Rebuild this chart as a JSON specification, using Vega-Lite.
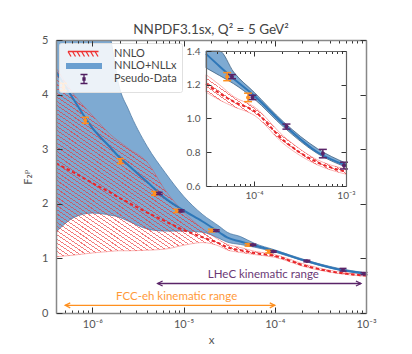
{
"$schema":"https://vega.github.io/schema/vega-lite/v6.json",
"width":310,"height":273,
"autosize":{"type":"none"},
"padding":{"left":56,"top":40,"right":46,"bottom":41},
"background":"white",
"title":{"text":"NNPDF3.1sx, Q² = 5 GeV²","font":"Lato","fontSize":13.5,"fontWeight":"normal","color":"#444","offset":-2},
"config":{
 "view":{"stroke":null},
 "axis":{"labelFont":"Lato","titleFont":"Lato","labelColor":"#555","titleColor":"#555","domainColor":"#888","domainWidth":1.5,"tickColor":"#333","tickWidth":1,"grid":false,"titleFontWeight":"normal","labelFontSize":11,"titleFontSize":11.5}
},
"datasets":{
 "curves":[
  {"x":4e-7,"bl":1.48,"bc":4.42,"bh":8.0,"rl":1.03,"rc":2.74,"rh":4.49},
  {"x":6.3e-7,"bl":1.75,"bc":3.90,"bh":6.8,"rl":1.06,"rc":2.57,"rh":4.00},
  {"x":1e-6,"bl":1.83,"bc":3.39,"bh":5.9,"rl":1.10,"rc":2.38,"rh":3.62},
  {"x":1.6e-6,"bl":1.79,"bc":3.02,"bh":5.0,"rl":1.13,"rc":2.20,"rh":3.26},
  {"x":1.93e-6,"bl":1.76,"bc":2.87,"bh":4.21,"rl":1.14,"rc":2.12,"rh":3.15},
  {"x":2.5e-6,"bl":1.68,"bc":2.70,"bh":3.72,"rl":1.14,"rc":2.02,"rh":3.01},
  {"x":4e-6,"bl":1.54,"bc":2.40,"bh":3.05,"rl":1.15,"rc":1.84,"rh":2.76},
  {"x":6.3e-6,"bl":1.50,"bc":2.10,"bh":2.57,"rl":1.17,"rc":1.68,"rh":2.25},
  {"x":1e-5,"bl":1.50,"bc":1.88,"bh":2.14,"rl":1.24,"rc":1.52,"rh":1.85},
  {"x":1.6e-5,"bl":1.48,"bc":1.68,"bh":1.81,"rl":1.29,"rc":1.39,"rh":1.55},
  {"x":2.5e-5,"bl":1.36,"bc":1.47,"bh":1.58,"rl":1.22,"rc":1.27,"rh":1.33},
  {"x":3e-5,"bl":1.30,"bc":1.383,"bh":1.48,"rl":1.156,"rc":1.206,"rh":1.26},
  {"x":4.2e-5,"bl":1.255,"bc":1.31,"bh":1.40,"rl":1.11,"rc":1.15,"rh":1.20},
  {"x":6e-5,"bl":1.206,"bc":1.235,"bh":1.275,"rl":1.07,"rc":1.10,"rh":1.13},
  {"x":1e-4,"bl":1.117,"bc":1.136,"bh":1.156,"rl":1.02,"rc":1.045,"rh":1.07},
  {"x":2.1e-4,"bl":0.949,"bc":0.965,"bh":0.979,"rl":0.85,"rc":0.87,"rh":0.895},
  {"x":4.9e-4,"bl":0.792,"bc":0.80,"bh":0.821,"rl":0.725,"rc":0.74,"rh":0.755},
  {"x":1e-3,"bl":0.712,"bc":0.722,"bh":0.735,"rl":0.67,"rc":0.685,"rh":0.70}
 ],
 "pts":[
  {"set":"FCC","x":4.84e-7,"y":4.14,"lo":4.075,"hi":4.205},
  {"set":"FCC","x":8.4e-7,"y":3.53,"lo":3.475,"hi":3.585},
  {"set":"FCC","x":2.03e-6,"y":2.78,"lo":2.735,"hi":2.825},
  {"set":"FCC","x":4.8e-6,"y":2.19,"lo":2.155,"hi":2.225},
  {"set":"FCC","x":8.4e-6,"y":1.87,"lo":1.84,"hi":1.90},
  {"set":"FCC","x":2.02e-5,"y":1.51,"lo":1.485,"hi":1.535},
  {"set":"FCC","x":5.1e-5,"y":1.248,"lo":1.224,"hi":1.272},
  {"set":"FCC","x":8.6e-5,"y":1.125,"lo":1.10,"hi":1.15},
  {"set":"LHeC","x":5.4e-6,"y":2.19,"lo":2.17,"hi":2.21},
  {"set":"LHeC","x":9.4e-6,"y":1.87,"lo":1.852,"hi":1.888},
  {"set":"LHeC","x":2.28e-5,"y":1.51,"lo":1.495,"hi":1.525},
  {"set":"LHeC","x":5.75e-5,"y":1.248,"lo":1.236,"hi":1.26},
  {"set":"LHeC","x":9.6e-5,"y":1.125,"lo":1.112,"hi":1.138},
  {"set":"LHeC","x":2.25e-4,"y":0.952,"lo":0.937,"hi":0.967},
  {"set":"LHeC","x":5.6e-4,"y":0.792,"lo":0.767,"hi":0.817},
  {"set":"LHeC","x":9.5e-4,"y":0.721,"lo":0.701,"hi":0.741}
 ],
 "arrows":[
  {"set":"LHeC","x1":5.2e-6,"x2":8.8e-4,"y":0.54,"label":"LHeC kinematic range","lx":7.5e-5,"ly":0.70},
  {"set":"FCC","x1":5.05e-7,"x2":1e-4,"y":0.14,"label":"FCC-eh kinematic range","lx":8.4e-6,"ly":0.29}
 ],
 "leg":[{"s":"NNLO"},{"s":"NNLO+NLLx"},{"s":"Pseudo-Data"}]
},
"layer":[
 {"layer":[
  {"data":{"name":"curves"},"mark":{"type":"area","clip":true,"fill":"#7eaad2","stroke":"#4f7ba6","strokeWidth":0.8,"interpolate":"monotone"},
   "encoding":{
    "x":{"field":"x","type":"quantitative","scale":{"type":"log","domain":[4e-7,0.001],"nice":false},
     "axis":{"orient":"bottom","values":[5e-7,6e-7,7e-7,8e-7,9e-7,1e-6,2e-6,3e-6,4e-6,5e-6,6e-6,7e-6,8e-6,9e-6,1e-5,2e-5,3e-5,4e-5,5e-5,6e-5,7e-5,8e-5,9e-5,1e-4,2e-4,3e-4,4e-4,5e-4,6e-4,7e-4,8e-4,9e-4,1e-3],
      "labelExpr":"datum.value == 0.000001 ? '10⁻⁶' : datum.value == 0.00001 ? '10⁻⁵' : datum.value == 0.0001 ? '10⁻⁴' : datum.value == 0.001 ? '10⁻³' : ''",
      "tickSize":{"condition":{"test":"datum.value == 0.000001 || datum.value == 0.00001 || datum.value == 0.0001 || datum.value == 0.001","value":-6},"value":-3},
      "labelPadding":11,"labelOverlap":false,"labelFlush":false,"title":"x","titlePadding":2,"zindex":1}},
    "y":{"field":"bl","type":"quantitative","scale":{"domain":[0,5],"nice":false,"zero":false},
     "axis":{"orient":"left","values":[0,1,2,3,4,5],"tickSize":-6,"labelPadding":14,"labelFlush":false,"labelOverlap":false,"title":"F₂ᵖ","titleFont":"DejaVu Sans","titleFontSize":11,"titlePadding":8,"zindex":1}},
    "y2":{"field":"bh"}}},
  {"data":{"name":"curves"},"mark":{"type":"area","clip":true,"interpolate":"monotone","fillOpacity":0.65,"stroke":"#e33","strokeOpacity":0.45,"strokeWidth":0.8,
    "fill":{"gradient":"linear","x1":0,"y1":1,"x2":1,"y2":0,"stops":[
{"offset":0,"color":"#e33"},{"offset":0.0025,"color":"#e33"},{"offset":0.0025,"color":"#e330"},{"offset":0.01,"color":"#e330"},
{"offset":0.01,"color":"#e33"},{"offset":0.0125,"color":"#e33"},{"offset":0.0125,"color":"#e330"},{"offset":0.02,"color":"#e330"},
{"offset":0.02,"color":"#e33"},{"offset":0.0225,"color":"#e33"},{"offset":0.0225,"color":"#e330"},{"offset":0.03,"color":"#e330"},
{"offset":0.03,"color":"#e33"},{"offset":0.0325,"color":"#e33"},{"offset":0.0325,"color":"#e330"},{"offset":0.04,"color":"#e330"},
{"offset":0.04,"color":"#e33"},{"offset":0.0425,"color":"#e33"},{"offset":0.0425,"color":"#e330"},{"offset":0.05,"color":"#e330"},
{"offset":0.05,"color":"#e33"},{"offset":0.0525,"color":"#e33"},{"offset":0.0525,"color":"#e330"},{"offset":0.06,"color":"#e330"},
{"offset":0.06,"color":"#e33"},{"offset":0.0625,"color":"#e33"},{"offset":0.0625,"color":"#e330"},{"offset":0.07,"color":"#e330"},
{"offset":0.07,"color":"#e33"},{"offset":0.0725,"color":"#e33"},{"offset":0.0725,"color":"#e330"},{"offset":0.08,"color":"#e330"},
{"offset":0.08,"color":"#e33"},{"offset":0.0825,"color":"#e33"},{"offset":0.0825,"color":"#e330"},{"offset":0.09,"color":"#e330"},
{"offset":0.09,"color":"#e33"},{"offset":0.0925,"color":"#e33"},{"offset":0.0925,"color":"#e330"},{"offset":0.1,"color":"#e330"},
{"offset":0.1,"color":"#e33"},{"offset":0.1025,"color":"#e33"},{"offset":0.1025,"color":"#e330"},{"offset":0.11,"color":"#e330"},
{"offset":0.11,"color":"#e33"},{"offset":0.1125,"color":"#e33"},{"offset":0.1125,"color":"#e330"},{"offset":0.12,"color":"#e330"},
{"offset":0.12,"color":"#e33"},{"offset":0.1225,"color":"#e33"},{"offset":0.1225,"color":"#e330"},{"offset":0.13,"color":"#e330"},
{"offset":0.13,"color":"#e33"},{"offset":0.1325,"color":"#e33"},{"offset":0.1325,"color":"#e330"},{"offset":0.14,"color":"#e330"},
{"offset":0.14,"color":"#e33"},{"offset":0.1425,"color":"#e33"},{"offset":0.1425,"color":"#e330"},{"offset":0.15,"color":"#e330"},
{"offset":0.15,"color":"#e33"},{"offset":0.1525,"color":"#e33"},{"offset":0.1525,"color":"#e330"},{"offset":0.16,"color":"#e330"},
{"offset":0.16,"color":"#e33"},{"offset":0.1625,"color":"#e33"},{"offset":0.1625,"color":"#e330"},{"offset":0.17,"color":"#e330"},
{"offset":0.17,"color":"#e33"},{"offset":0.1725,"color":"#e33"},{"offset":0.1725,"color":"#e330"},{"offset":0.18,"color":"#e330"},
{"offset":0.18,"color":"#e33"},{"offset":0.1825,"color":"#e33"},{"offset":0.1825,"color":"#e330"},{"offset":0.19,"color":"#e330"},
{"offset":0.19,"color":"#e33"},{"offset":0.1925,"color":"#e33"},{"offset":0.1925,"color":"#e330"},{"offset":0.2,"color":"#e330"},
{"offset":0.2,"color":"#e33"},{"offset":0.2025,"color":"#e33"},{"offset":0.2025,"color":"#e330"},{"offset":0.21,"color":"#e330"},
{"offset":0.21,"color":"#e33"},{"offset":0.2125,"color":"#e33"},{"offset":0.2125,"color":"#e330"},{"offset":0.22,"color":"#e330"},
{"offset":0.22,"color":"#e33"},{"offset":0.2225,"color":"#e33"},{"offset":0.2225,"color":"#e330"},{"offset":0.23,"color":"#e330"},
{"offset":0.23,"color":"#e33"},{"offset":0.2325,"color":"#e33"},{"offset":0.2325,"color":"#e330"},{"offset":0.24,"color":"#e330"},
{"offset":0.24,"color":"#e33"},{"offset":0.2425,"color":"#e33"},{"offset":0.2425,"color":"#e330"},{"offset":0.25,"color":"#e330"},
{"offset":0.25,"color":"#e33"},{"offset":0.2525,"color":"#e33"},{"offset":0.2525,"color":"#e330"},{"offset":0.26,"color":"#e330"},
{"offset":0.26,"color":"#e33"},{"offset":0.2625,"color":"#e33"},{"offset":0.2625,"color":"#e330"},{"offset":0.27,"color":"#e330"},
{"offset":0.27,"color":"#e33"},{"offset":0.2725,"color":"#e33"},{"offset":0.2725,"color":"#e330"},{"offset":0.28,"color":"#e330"},
{"offset":0.28,"color":"#e33"},{"offset":0.2825,"color":"#e33"},{"offset":0.2825,"color":"#e330"},{"offset":0.29,"color":"#e330"},
{"offset":0.29,"color":"#e33"},{"offset":0.2925,"color":"#e33"},{"offset":0.2925,"color":"#e330"},{"offset":0.3,"color":"#e330"},
{"offset":0.3,"color":"#e33"},{"offset":0.3025,"color":"#e33"},{"offset":0.3025,"color":"#e330"},{"offset":0.31,"color":"#e330"},
{"offset":0.31,"color":"#e33"},{"offset":0.3125,"color":"#e33"},{"offset":0.3125,"color":"#e330"},{"offset":0.32,"color":"#e330"},
{"offset":0.32,"color":"#e33"},{"offset":0.3225,"color":"#e33"},{"offset":0.3225,"color":"#e330"},{"offset":0.33,"color":"#e330"},
{"offset":0.33,"color":"#e33"},{"offset":0.3325,"color":"#e33"},{"offset":0.3325,"color":"#e330"},{"offset":0.34,"color":"#e330"},
{"offset":0.34,"color":"#e33"},{"offset":0.3425,"color":"#e33"},{"offset":0.3425,"color":"#e330"},{"offset":0.35,"color":"#e330"},
{"offset":0.35,"color":"#e33"},{"offset":0.3525,"color":"#e33"},{"offset":0.3525,"color":"#e330"},{"offset":0.36,"color":"#e330"},
{"offset":0.36,"color":"#e33"},{"offset":0.3625,"color":"#e33"},{"offset":0.3625,"color":"#e330"},{"offset":0.37,"color":"#e330"},
{"offset":0.37,"color":"#e33"},{"offset":0.3725,"color":"#e33"},{"offset":0.3725,"color":"#e330"},{"offset":0.38,"color":"#e330"},
{"offset":0.38,"color":"#e33"},{"offset":0.3825,"color":"#e33"},{"offset":0.3825,"color":"#e330"},{"offset":0.39,"color":"#e330"},
{"offset":0.39,"color":"#e33"},{"offset":0.3925,"color":"#e33"},{"offset":0.3925,"color":"#e330"},{"offset":0.4,"color":"#e330"},
{"offset":0.4,"color":"#e33"},{"offset":0.4025,"color":"#e33"},{"offset":0.4025,"color":"#e330"},{"offset":0.41,"color":"#e330"},
{"offset":0.41,"color":"#e33"},{"offset":0.4125,"color":"#e33"},{"offset":0.4125,"color":"#e330"},{"offset":0.42,"color":"#e330"},
{"offset":0.42,"color":"#e33"},{"offset":0.4225,"color":"#e33"},{"offset":0.4225,"color":"#e330"},{"offset":0.43,"color":"#e330"},
{"offset":0.43,"color":"#e33"},{"offset":0.4325,"color":"#e33"},{"offset":0.4325,"color":"#e330"},{"offset":0.44,"color":"#e330"},
{"offset":0.44,"color":"#e33"},{"offset":0.4425,"color":"#e33"},{"offset":0.4425,"color":"#e330"},{"offset":0.45,"color":"#e330"},
{"offset":0.45,"color":"#e33"},{"offset":0.4525,"color":"#e33"},{"offset":0.4525,"color":"#e330"},{"offset":0.46,"color":"#e330"},
{"offset":0.46,"color":"#e33"},{"offset":0.4625,"color":"#e33"},{"offset":0.4625,"color":"#e330"},{"offset":0.47,"color":"#e330"},
{"offset":0.47,"color":"#e33"},{"offset":0.4725,"color":"#e33"},{"offset":0.4725,"color":"#e330"},{"offset":0.48,"color":"#e330"},
{"offset":0.48,"color":"#e33"},{"offset":0.4825,"color":"#e33"},{"offset":0.4825,"color":"#e330"},{"offset":0.49,"color":"#e330"},
{"offset":0.49,"color":"#e33"},{"offset":0.4925,"color":"#e33"},{"offset":0.4925,"color":"#e330"},{"offset":0.5,"color":"#e330"},
{"offset":0.5,"color":"#e33"},{"offset":0.5025,"color":"#e33"},{"offset":0.5025,"color":"#e330"},{"offset":0.51,"color":"#e330"},
{"offset":0.51,"color":"#e33"},{"offset":0.5125,"color":"#e33"},{"offset":0.5125,"color":"#e330"},{"offset":0.52,"color":"#e330"},
{"offset":0.52,"color":"#e33"},{"offset":0.5225,"color":"#e33"},{"offset":0.5225,"color":"#e330"},{"offset":0.53,"color":"#e330"},
{"offset":0.53,"color":"#e33"},{"offset":0.5325,"color":"#e33"},{"offset":0.5325,"color":"#e330"},{"offset":0.54,"color":"#e330"},
{"offset":0.54,"color":"#e33"},{"offset":0.5425,"color":"#e33"},{"offset":0.5425,"color":"#e330"},{"offset":0.55,"color":"#e330"},
{"offset":0.55,"color":"#e33"},{"offset":0.5525,"color":"#e33"},{"offset":0.5525,"color":"#e330"},{"offset":0.56,"color":"#e330"},
{"offset":0.56,"color":"#e33"},{"offset":0.5625,"color":"#e33"},{"offset":0.5625,"color":"#e330"},{"offset":0.57,"color":"#e330"},
{"offset":0.57,"color":"#e33"},{"offset":0.5725,"color":"#e33"},{"offset":0.5725,"color":"#e330"},{"offset":0.58,"color":"#e330"},
{"offset":0.58,"color":"#e33"},{"offset":0.5825,"color":"#e33"},{"offset":0.5825,"color":"#e330"},{"offset":0.59,"color":"#e330"},
{"offset":0.59,"color":"#e33"},{"offset":0.5925,"color":"#e33"},{"offset":0.5925,"color":"#e330"},{"offset":0.6,"color":"#e330"},
{"offset":0.6,"color":"#e33"},{"offset":0.6025,"color":"#e33"},{"offset":0.6025,"color":"#e330"},{"offset":0.61,"color":"#e330"},
{"offset":0.61,"color":"#e33"},{"offset":0.6125,"color":"#e33"},{"offset":0.6125,"color":"#e330"},{"offset":0.62,"color":"#e330"},
{"offset":0.62,"color":"#e33"},{"offset":0.6225,"color":"#e33"},{"offset":0.6225,"color":"#e330"},{"offset":0.63,"color":"#e330"},
{"offset":0.63,"color":"#e33"},{"offset":0.6325,"color":"#e33"},{"offset":0.6325,"color":"#e330"},{"offset":0.64,"color":"#e330"},
{"offset":0.64,"color":"#e33"},{"offset":0.6425,"color":"#e33"},{"offset":0.6425,"color":"#e330"},{"offset":0.65,"color":"#e330"},
{"offset":0.65,"color":"#e33"},{"offset":0.6525,"color":"#e33"},{"offset":0.6525,"color":"#e330"},{"offset":0.66,"color":"#e330"},
{"offset":0.66,"color":"#e33"},{"offset":0.6625,"color":"#e33"},{"offset":0.6625,"color":"#e330"},{"offset":0.67,"color":"#e330"},
{"offset":0.67,"color":"#e33"},{"offset":0.6725,"color":"#e33"},{"offset":0.6725,"color":"#e330"},{"offset":0.68,"color":"#e330"},
{"offset":0.68,"color":"#e33"},{"offset":0.6825,"color":"#e33"},{"offset":0.6825,"color":"#e330"},{"offset":0.69,"color":"#e330"},
{"offset":0.69,"color":"#e33"},{"offset":0.6925,"color":"#e33"},{"offset":0.6925,"color":"#e330"},{"offset":0.7,"color":"#e330"},
{"offset":0.7,"color":"#e33"},{"offset":0.7025,"color":"#e33"},{"offset":0.7025,"color":"#e330"},{"offset":0.71,"color":"#e330"},
{"offset":0.71,"color":"#e33"},{"offset":0.7125,"color":"#e33"},{"offset":0.7125,"color":"#e330"},{"offset":0.72,"color":"#e330"},
{"offset":0.72,"color":"#e33"},{"offset":0.7225,"color":"#e33"},{"offset":0.7225,"color":"#e330"},{"offset":0.73,"color":"#e330"},
{"offset":0.73,"color":"#e33"},{"offset":0.7325,"color":"#e33"},{"offset":0.7325,"color":"#e330"},{"offset":0.74,"color":"#e330"},
{"offset":0.74,"color":"#e33"},{"offset":0.7425,"color":"#e33"},{"offset":0.7425,"color":"#e330"},{"offset":0.75,"color":"#e330"},
{"offset":0.75,"color":"#e33"},{"offset":0.7525,"color":"#e33"},{"offset":0.7525,"color":"#e330"},{"offset":0.76,"color":"#e330"},
{"offset":0.76,"color":"#e33"},{"offset":0.7625,"color":"#e33"},{"offset":0.7625,"color":"#e330"},{"offset":0.77,"color":"#e330"},
{"offset":0.77,"color":"#e33"},{"offset":0.7725,"color":"#e33"},{"offset":0.7725,"color":"#e330"},{"offset":0.78,"color":"#e330"},
{"offset":0.78,"color":"#e33"},{"offset":0.7825,"color":"#e33"},{"offset":0.7825,"color":"#e330"},{"offset":0.79,"color":"#e330"},
{"offset":0.79,"color":"#e33"},{"offset":0.7925,"color":"#e33"},{"offset":0.7925,"color":"#e330"},{"offset":0.8,"color":"#e330"},
{"offset":0.8,"color":"#e33"},{"offset":0.8025,"color":"#e33"},{"offset":0.8025,"color":"#e330"},{"offset":0.81,"color":"#e330"},
{"offset":0.81,"color":"#e33"},{"offset":0.8125,"color":"#e33"},{"offset":0.8125,"color":"#e330"},{"offset":0.82,"color":"#e330"},
{"offset":0.82,"color":"#e33"},{"offset":0.8225,"color":"#e33"},{"offset":0.8225,"color":"#e330"},{"offset":0.83,"color":"#e330"},
{"offset":0.83,"color":"#e33"},{"offset":0.8325,"color":"#e33"},{"offset":0.8325,"color":"#e330"},{"offset":0.84,"color":"#e330"},
{"offset":0.84,"color":"#e33"},{"offset":0.8425,"color":"#e33"},{"offset":0.8425,"color":"#e330"},{"offset":0.85,"color":"#e330"},
{"offset":0.85,"color":"#e33"},{"offset":0.8525,"color":"#e33"},{"offset":0.8525,"color":"#e330"},{"offset":0.86,"color":"#e330"},
{"offset":0.86,"color":"#e33"},{"offset":0.8625,"color":"#e33"},{"offset":0.8625,"color":"#e330"},{"offset":0.87,"color":"#e330"},
{"offset":0.87,"color":"#e33"},{"offset":0.8725,"color":"#e33"},{"offset":0.8725,"color":"#e330"},{"offset":0.88,"color":"#e330"},
{"offset":0.88,"color":"#e33"},{"offset":0.8825,"color":"#e33"},{"offset":0.8825,"color":"#e330"},{"offset":0.89,"color":"#e330"},
{"offset":0.89,"color":"#e33"},{"offset":0.8925,"color":"#e33"},{"offset":0.8925,"color":"#e330"},{"offset":0.9,"color":"#e330"},
{"offset":0.9,"color":"#e33"},{"offset":0.9025,"color":"#e33"},{"offset":0.9025,"color":"#e330"},{"offset":0.91,"color":"#e330"},
{"offset":0.91,"color":"#e33"},{"offset":0.9125,"color":"#e33"},{"offset":0.9125,"color":"#e330"},{"offset":0.92,"color":"#e330"},
{"offset":0.92,"color":"#e33"},{"offset":0.9225,"color":"#e33"},{"offset":0.9225,"color":"#e330"},{"offset":0.93,"color":"#e330"},
{"offset":0.93,"color":"#e33"},{"offset":0.9325,"color":"#e33"},{"offset":0.9325,"color":"#e330"},{"offset":0.94,"color":"#e330"},
{"offset":0.94,"color":"#e33"},{"offset":0.9425,"color":"#e33"},{"offset":0.9425,"color":"#e330"},{"offset":0.95,"color":"#e330"},
{"offset":0.95,"color":"#e33"},{"offset":0.9525,"color":"#e33"},{"offset":0.9525,"color":"#e330"},{"offset":0.96,"color":"#e330"},
{"offset":0.96,"color":"#e33"},{"offset":0.9625,"color":"#e33"},{"offset":0.9625,"color":"#e330"},{"offset":0.97,"color":"#e330"},
{"offset":0.97,"color":"#e33"},{"offset":0.9725,"color":"#e33"},{"offset":0.9725,"color":"#e330"},{"offset":0.98,"color":"#e330"},
{"offset":0.98,"color":"#e33"},{"offset":0.9825,"color":"#e33"},{"offset":0.9825,"color":"#e330"},{"offset":0.99,"color":"#e330"},
{"offset":0.99,"color":"#e33"},{"offset":0.9925,"color":"#e33"},{"offset":0.9925,"color":"#e330"},{"offset":1,"color":"#e330"}
    ]}},
   "encoding":{
    "x":{"field":"x","type":"quantitative","scale":{"type":"log","domain":[4e-7,0.001],"nice":false},
     "axis":{"orient":"top","values":[5e-7,6e-7,7e-7,8e-7,9e-7,1e-6,2e-6,3e-6,4e-6,5e-6,6e-6,7e-6,8e-6,9e-6,1e-5,2e-5,3e-5,4e-5,5e-5,6e-5,7e-5,8e-5,9e-5,1e-4,2e-4,3e-4,4e-4,5e-4,6e-4,7e-4,8e-4,9e-4,1e-3],
      "labels":false,"tickSize":{"condition":{"test":"datum.value == 0.000001 || datum.value == 0.00001 || datum.value == 0.0001 || datum.value == 0.001","value":-6},"value":-3},"title":null,"zindex":1}},
    "y":{"field":"rl","type":"quantitative","scale":{"domain":[0,5],"nice":false,"zero":false},
     "axis":{"orient":"right","values":[0,1,2,3,4,5],"labels":false,"tickSize":-6,"title":null,"zindex":1}},
    "y2":{"field":"rh"}}},
  {"data":{"name":"curves"},"mark":{"type":"line","clip":true,"color":"#2e77b8","strokeWidth":2,"interpolate":"monotone"},
   "encoding":{"x":{"field":"x","type":"quantitative","scale":{"type":"log","domain":[4e-7,0.001],"nice":false},"axis":null},
    "y":{"field":"bc","type":"quantitative","scale":{"domain":[0,5],"nice":false,"zero":false},"axis":null}}},
  {"data":{"name":"curves"},"mark":{"type":"line","clip":true,"color":"#e8262a","strokeWidth":2,"strokeDash":[3.5,2.5],"interpolate":"monotone"},
   "encoding":{"x":{"field":"x","type":"quantitative","scale":{"type":"log","domain":[4e-7,0.001],"nice":false},"axis":null},
    "y":{"field":"rc","type":"quantitative","scale":{"domain":[0,5],"nice":false,"zero":false},"axis":null}}},
  {"data":{"name":"arrows"},"mark":{"type":"rule","strokeWidth":1.3},
   "encoding":{"x":{"field":"x1","type":"quantitative","axis":null},"x2":{"field":"x2"},
    "y":{"field":"y","type":"quantitative","axis":null},
    "color":{"field":"set","type":"nominal","scale":{"domain":["FCC","LHeC"],"range":["#ff901f","#5a2468"]},"legend":null}}},
  {"data":{"name":"arrows"},"mark":{"type":"point","shape":"M2,-1L0,0L2,1","size":25,"filled":false,"strokeWidth":1.3,"opacity":1},
   "encoding":{"x":{"field":"x1","type":"quantitative","axis":null},
    "y":{"field":"y","type":"quantitative","axis":null},
    "color":{"field":"set","type":"nominal","legend":null}}},
  {"data":{"name":"arrows"},"mark":{"type":"point","shape":"M-2,-1L0,0L-2,1","size":25,"filled":false,"strokeWidth":1.3,"opacity":1},
   "encoding":{"x":{"field":"x2","type":"quantitative","axis":null},
    "y":{"field":"y","type":"quantitative","axis":null},
    "color":{"field":"set","type":"nominal","legend":null}}},
  {"data":{"name":"arrows"},"mark":{"type":"text","font":"Lato","fontSize":11.5,"baseline":"middle","align":"center","opacity":0.9},
   "encoding":{"x":{"field":"lx","type":"quantitative","axis":null},
    "y":{"field":"ly","type":"quantitative","axis":null},
    "text":{"field":"label"},
    "color":{"field":"set","type":"nominal","legend":null}}},
  {"data":{"name":"pts"},"mark":{"type":"rule","strokeWidth":1.5},
   "encoding":{"x":{"field":"x","type":"quantitative","axis":null},
    "y":{"field":"lo","type":"quantitative","axis":null},"y2":{"field":"hi"},
    "color":{"field":"set","type":"nominal","legend":null}}},
  {"data":{"name":"pts"},"mark":{"type":"tick","orient":"horizontal","size":7,"thickness":1.5,"opacity":1},
   "encoding":{"x":{"field":"x","type":"quantitative","axis":null},
    "y":{"field":"lo","type":"quantitative","axis":null},
    "color":{"field":"set","type":"nominal","legend":null}}},
  {"data":{"name":"pts"},"mark":{"type":"tick","orient":"horizontal","size":7,"thickness":1.5,"opacity":1},
   "encoding":{"x":{"field":"x","type":"quantitative","axis":null},
    "y":{"field":"hi","type":"quantitative","axis":null},
    "color":{"field":"set","type":"nominal","legend":null}}},
  {"data":{"name":"pts"},"mark":{"type":"point","filled":true,"size":14,"opacity":1},
   "encoding":{"x":{"field":"x","type":"quantitative","axis":null},
    "y":{"field":"y","type":"quantitative","axis":null},
    "color":{"field":"set","type":"nominal","legend":null}}},
  {"data":{"name":"leg"},"transform":[{"filter":"false"}],"mark":{"type":"point","filled":false,"opacity":1,"strokeWidth":1.3},
   "encoding":{
    "stroke":{"field":"s","type":"nominal","scale":{"domain":["NNLO","NNLO+NLLx","Pseudo-Data"],"range":["#ee3333","#6a9fd0","#4f1d60"]},"legend":null},
    "shape":{"field":"s","type":"nominal",
    "scale":{"domain":["NNLO","NNLO+NLLx","Pseudo-Data"],"range":[
      "M-3.2,-0.5H2.9M-3.2,-0.5l0.6,1M-2.3,-0.5l0.6,1M-1.4,-0.5l0.6,1M-0.5,-0.5l0.6,1M0.4,-0.5l0.6,1M1.3,-0.5l0.6,1M2.2,-0.5l0.6,1",
      "M-3.6,-0.45H3.6M-3.6,-0.15H3.6M-3.6,0.15H3.6M-3.6,0.45H3.6",
      "M0,-0.9V0.9M-0.7,-0.9H0.7M-0.7,0.9H0.7M-0.2,-0.2H0.2V0.2H-0.2Z"]},
    "legend":{"title":null,"orient":"top-left","offset":3,"padding":5,"fillColor":"rgba(255,255,255,0.85)","strokeColor":"#e0e0e0","cornerRadius":2,
     "labelFont":"Lato","labelFontSize":11,"labelColor":"#444","symbolSize":100,"symbolOffset":14,"labelOffset":24,"rowPadding":0,"symbolStrokeWidth":1.3,"symbolOpacity":1,
     "symbolStrokeColor":"#4f1d60"}}}}
 ]},
 {"layer":[
  {"data":{"values":[{}]},"mark":{"type":"rect","fill":"white"},
   "encoding":{
    "x":{"datum":0.00003,"type":"quantitative","scale":{"type":"log","domain":[3e-5,0.001],"nice":false,"range":[150,290]},
     "axis":{"orient":"bottom","offset":-127,"values":[4e-5,5e-5,6e-5,7e-5,8e-5,9e-5,1e-4,2e-4,3e-4,4e-4,5e-4,6e-4,7e-4,8e-4,9e-4,1e-3],
      "labelExpr":"datum.value == 0.0001 ? '10⁻⁴' : datum.value == 0.001 ? '10⁻³' : ''",
      "tickSize":{"condition":{"test":"datum.value == 0.0001 || datum.value == 0.001","value":-5},"value":-2.5},
      "labelPadding":9,"labelFontSize":10,"labelOverlap":false,"labelFlush":false,"title":null,"zindex":2,"domainColor":"#666","domainWidth":1.2}},
    "x2":{"datum":0.001},
    "y":{"datum":0.6,"type":"quantitative","scale":{"domain":[0.6,1.4],"nice":false,"zero":false,"range":[146,11],"clamp":true},
     "axis":{"orient":"left","offset":-150,"values":[0.6,0.8,1.0,1.2,1.4],"format":".1f","tickSize":-5,"labelPadding":11,"labelFontSize":10,"labelFlush":false,"labelOverlap":false,"title":null,"zindex":2,"domainColor":"#666","domainWidth":1.2}},
    "y2":{"datum":1.4}}},
  {"data":{"name":"curves"},"transform":[{"filter":"datum.x >= 0.0000299"}],"mark":{"type":"area","fill":"#7eaad2","stroke":"#3d5f80","strokeWidth":0.8,"interpolate":"monotone"},
   "encoding":{
    "x":{"field":"x","type":"quantitative","scale":{"type":"log","domain":[3e-5,0.001],"nice":false,"range":[150,290]},
     "axis":{"orient":"top","offset":-11,"values":[4e-5,5e-5,6e-5,7e-5,8e-5,9e-5,1e-4,2e-4,3e-4,4e-4,5e-4,6e-4,7e-4,8e-4,9e-4,1e-3],"labels":false,
      "tickSize":{"condition":{"test":"datum.value == 0.0001 || datum.value == 0.001","value":-5},"value":-2.5},"title":null,"zindex":2,"domainColor":"#666","domainWidth":1.2}},
    "y":{"field":"bl","type":"quantitative","scale":{"domain":[0.6,1.4],"nice":false,"zero":false,"range":[146,11],"clamp":true},
     "axis":{"orient":"right","offset":-20,"values":[0.6,0.8,1.0,1.2,1.4],"labels":false,"tickSize":-5,"title":null,"zindex":2,"domainColor":"#666","domainWidth":1.2}},
    "y2":{"field":"bh"}}},
  {"data":{"name":"curves"},"transform":[{"filter":"datum.x >= 0.0000299"}],"mark":{"type":"area","interpolate":"monotone","fillOpacity":0.65,"stroke":"#e33","strokeOpacity":0.45,"strokeWidth":0.8,
    "fill":{"gradient":"linear","x1":0,"y1":1,"x2":1,"y2":0,"stops":[
{"offset":0,"color":"#e33"},{"offset":0.005,"color":"#e33"},{"offset":0.005,"color":"#e330"},{"offset":0.02,"color":"#e330"},
{"offset":0.02,"color":"#e33"},{"offset":0.025,"color":"#e33"},{"offset":0.025,"color":"#e330"},{"offset":0.04,"color":"#e330"},
{"offset":0.04,"color":"#e33"},{"offset":0.045,"color":"#e33"},{"offset":0.045,"color":"#e330"},{"offset":0.06,"color":"#e330"},
{"offset":0.06,"color":"#e33"},{"offset":0.065,"color":"#e33"},{"offset":0.065,"color":"#e330"},{"offset":0.08,"color":"#e330"},
{"offset":0.08,"color":"#e33"},{"offset":0.085,"color":"#e33"},{"offset":0.085,"color":"#e330"},{"offset":0.1,"color":"#e330"},
{"offset":0.1,"color":"#e33"},{"offset":0.105,"color":"#e33"},{"offset":0.105,"color":"#e330"},{"offset":0.12,"color":"#e330"},
{"offset":0.12,"color":"#e33"},{"offset":0.125,"color":"#e33"},{"offset":0.125,"color":"#e330"},{"offset":0.14,"color":"#e330"},
{"offset":0.14,"color":"#e33"},{"offset":0.145,"color":"#e33"},{"offset":0.145,"color":"#e330"},{"offset":0.16,"color":"#e330"},
{"offset":0.16,"color":"#e33"},{"offset":0.165,"color":"#e33"},{"offset":0.165,"color":"#e330"},{"offset":0.18,"color":"#e330"},
{"offset":0.18,"color":"#e33"},{"offset":0.185,"color":"#e33"},{"offset":0.185,"color":"#e330"},{"offset":0.2,"color":"#e330"},
{"offset":0.2,"color":"#e33"},{"offset":0.205,"color":"#e33"},{"offset":0.205,"color":"#e330"},{"offset":0.22,"color":"#e330"},
{"offset":0.22,"color":"#e33"},{"offset":0.225,"color":"#e33"},{"offset":0.225,"color":"#e330"},{"offset":0.24,"color":"#e330"},
{"offset":0.24,"color":"#e33"},{"offset":0.245,"color":"#e33"},{"offset":0.245,"color":"#e330"},{"offset":0.26,"color":"#e330"},
{"offset":0.26,"color":"#e33"},{"offset":0.265,"color":"#e33"},{"offset":0.265,"color":"#e330"},{"offset":0.28,"color":"#e330"},
{"offset":0.28,"color":"#e33"},{"offset":0.285,"color":"#e33"},{"offset":0.285,"color":"#e330"},{"offset":0.3,"color":"#e330"},
{"offset":0.3,"color":"#e33"},{"offset":0.305,"color":"#e33"},{"offset":0.305,"color":"#e330"},{"offset":0.32,"color":"#e330"},
{"offset":0.32,"color":"#e33"},{"offset":0.325,"color":"#e33"},{"offset":0.325,"color":"#e330"},{"offset":0.34,"color":"#e330"},
{"offset":0.34,"color":"#e33"},{"offset":0.345,"color":"#e33"},{"offset":0.345,"color":"#e330"},{"offset":0.36,"color":"#e330"},
{"offset":0.36,"color":"#e33"},{"offset":0.365,"color":"#e33"},{"offset":0.365,"color":"#e330"},{"offset":0.38,"color":"#e330"},
{"offset":0.38,"color":"#e33"},{"offset":0.385,"color":"#e33"},{"offset":0.385,"color":"#e330"},{"offset":0.4,"color":"#e330"},
{"offset":0.4,"color":"#e33"},{"offset":0.405,"color":"#e33"},{"offset":0.405,"color":"#e330"},{"offset":0.42,"color":"#e330"},
{"offset":0.42,"color":"#e33"},{"offset":0.425,"color":"#e33"},{"offset":0.425,"color":"#e330"},{"offset":0.44,"color":"#e330"},
{"offset":0.44,"color":"#e33"},{"offset":0.445,"color":"#e33"},{"offset":0.445,"color":"#e330"},{"offset":0.46,"color":"#e330"},
{"offset":0.46,"color":"#e33"},{"offset":0.465,"color":"#e33"},{"offset":0.465,"color":"#e330"},{"offset":0.48,"color":"#e330"},
{"offset":0.48,"color":"#e33"},{"offset":0.485,"color":"#e33"},{"offset":0.485,"color":"#e330"},{"offset":0.5,"color":"#e330"},
{"offset":0.5,"color":"#e33"},{"offset":0.505,"color":"#e33"},{"offset":0.505,"color":"#e330"},{"offset":0.52,"color":"#e330"},
{"offset":0.52,"color":"#e33"},{"offset":0.525,"color":"#e33"},{"offset":0.525,"color":"#e330"},{"offset":0.54,"color":"#e330"},
{"offset":0.54,"color":"#e33"},{"offset":0.545,"color":"#e33"},{"offset":0.545,"color":"#e330"},{"offset":0.56,"color":"#e330"},
{"offset":0.56,"color":"#e33"},{"offset":0.565,"color":"#e33"},{"offset":0.565,"color":"#e330"},{"offset":0.58,"color":"#e330"},
{"offset":0.58,"color":"#e33"},{"offset":0.585,"color":"#e33"},{"offset":0.585,"color":"#e330"},{"offset":0.6,"color":"#e330"},
{"offset":0.6,"color":"#e33"},{"offset":0.605,"color":"#e33"},{"offset":0.605,"color":"#e330"},{"offset":0.62,"color":"#e330"},
{"offset":0.62,"color":"#e33"},{"offset":0.625,"color":"#e33"},{"offset":0.625,"color":"#e330"},{"offset":0.64,"color":"#e330"},
{"offset":0.64,"color":"#e33"},{"offset":0.645,"color":"#e33"},{"offset":0.645,"color":"#e330"},{"offset":0.66,"color":"#e330"},
{"offset":0.66,"color":"#e33"},{"offset":0.665,"color":"#e33"},{"offset":0.665,"color":"#e330"},{"offset":0.68,"color":"#e330"},
{"offset":0.68,"color":"#e33"},{"offset":0.685,"color":"#e33"},{"offset":0.685,"color":"#e330"},{"offset":0.7,"color":"#e330"},
{"offset":0.7,"color":"#e33"},{"offset":0.705,"color":"#e33"},{"offset":0.705,"color":"#e330"},{"offset":0.72,"color":"#e330"},
{"offset":0.72,"color":"#e33"},{"offset":0.725,"color":"#e33"},{"offset":0.725,"color":"#e330"},{"offset":0.74,"color":"#e330"},
{"offset":0.74,"color":"#e33"},{"offset":0.745,"color":"#e33"},{"offset":0.745,"color":"#e330"},{"offset":0.76,"color":"#e330"},
{"offset":0.76,"color":"#e33"},{"offset":0.765,"color":"#e33"},{"offset":0.765,"color":"#e330"},{"offset":0.78,"color":"#e330"},
{"offset":0.78,"color":"#e33"},{"offset":0.785,"color":"#e33"},{"offset":0.785,"color":"#e330"},{"offset":0.8,"color":"#e330"},
{"offset":0.8,"color":"#e33"},{"offset":0.805,"color":"#e33"},{"offset":0.805,"color":"#e330"},{"offset":0.82,"color":"#e330"},
{"offset":0.82,"color":"#e33"},{"offset":0.825,"color":"#e33"},{"offset":0.825,"color":"#e330"},{"offset":0.84,"color":"#e330"},
{"offset":0.84,"color":"#e33"},{"offset":0.845,"color":"#e33"},{"offset":0.845,"color":"#e330"},{"offset":0.86,"color":"#e330"},
{"offset":0.86,"color":"#e33"},{"offset":0.865,"color":"#e33"},{"offset":0.865,"color":"#e330"},{"offset":0.88,"color":"#e330"},
{"offset":0.88,"color":"#e33"},{"offset":0.885,"color":"#e33"},{"offset":0.885,"color":"#e330"},{"offset":0.9,"color":"#e330"},
{"offset":0.9,"color":"#e33"},{"offset":0.905,"color":"#e33"},{"offset":0.905,"color":"#e330"},{"offset":0.92,"color":"#e330"},
{"offset":0.92,"color":"#e33"},{"offset":0.925,"color":"#e33"},{"offset":0.925,"color":"#e330"},{"offset":0.94,"color":"#e330"},
{"offset":0.94,"color":"#e33"},{"offset":0.945,"color":"#e33"},{"offset":0.945,"color":"#e330"},{"offset":0.96,"color":"#e330"},
{"offset":0.96,"color":"#e33"},{"offset":0.965,"color":"#e33"},{"offset":0.965,"color":"#e330"},{"offset":0.98,"color":"#e330"},
{"offset":0.98,"color":"#e33"},{"offset":0.985,"color":"#e33"},{"offset":0.985,"color":"#e330"},{"offset":1,"color":"#e330"}
    ]}},
   "encoding":{
    "x":{"field":"x","type":"quantitative","scale":{"type":"log","domain":[3e-5,0.001],"nice":false,"range":[150,290]},"axis":null},
    "y":{"field":"rl","type":"quantitative","scale":{"domain":[0.6,1.4],"nice":false,"zero":false,"range":[146,11],"clamp":true},"axis":null},
    "y2":{"field":"rh"}}},
  {"data":{"name":"curves"},"transform":[{"filter":"datum.x >= 0.0000299"}],"mark":{"type":"line","color":"#2e77b8","strokeWidth":2,"interpolate":"monotone"},
   "encoding":{"x":{"field":"x","type":"quantitative","scale":{"type":"log","domain":[3e-5,0.001],"nice":false,"range":[150,290]},"axis":null},
    "y":{"field":"bc","type":"quantitative","scale":{"domain":[0.6,1.4],"nice":false,"zero":false,"range":[146,11],"clamp":true},"axis":null}}},
  {"data":{"name":"curves"},"transform":[{"filter":"datum.x >= 0.0000299"}],"mark":{"type":"line","color":"#e8262a","strokeWidth":2,"strokeDash":[3.5,2.5],"interpolate":"monotone"},
   "encoding":{"x":{"field":"x","type":"quantitative","scale":{"type":"log","domain":[3e-5,0.001],"nice":false,"range":[150,290]},"axis":null},
    "y":{"field":"rc","type":"quantitative","scale":{"domain":[0.6,1.4],"nice":false,"zero":false,"range":[146,11],"clamp":true},"axis":null}}},
  {"data":{"name":"pts"},"transform":[{"filter":"datum.x >= 0.0000299"}],"mark":{"type":"rule","strokeWidth":1.5},
   "encoding":{"x":{"field":"x","type":"quantitative","scale":{"type":"log","domain":[3e-5,0.001],"nice":false,"range":[150,290]},"axis":null},
    "y":{"field":"lo","type":"quantitative","scale":{"domain":[0.6,1.4],"nice":false,"zero":false,"range":[146,11],"clamp":true},"axis":null},"y2":{"field":"hi"},
    "color":{"field":"set","type":"nominal","legend":null}}},
  {"data":{"name":"pts"},"transform":[{"filter":"datum.x >= 0.0000299"}],"mark":{"type":"tick","orient":"horizontal","size":8,"thickness":1.5,"opacity":1},
   "encoding":{"x":{"field":"x","type":"quantitative","scale":{"type":"log","domain":[3e-5,0.001],"nice":false,"range":[150,290]},"axis":null},
    "y":{"field":"lo","type":"quantitative","scale":{"domain":[0.6,1.4],"nice":false,"zero":false,"range":[146,11],"clamp":true},"axis":null},
    "color":{"field":"set","type":"nominal","legend":null}}},
  {"data":{"name":"pts"},"transform":[{"filter":"datum.x >= 0.0000299"}],"mark":{"type":"tick","orient":"horizontal","size":8,"thickness":1.5,"opacity":1},
   "encoding":{"x":{"field":"x","type":"quantitative","scale":{"type":"log","domain":[3e-5,0.001],"nice":false,"range":[150,290]},"axis":null},
    "y":{"field":"hi","type":"quantitative","scale":{"domain":[0.6,1.4],"nice":false,"zero":false,"range":[146,11],"clamp":true},"axis":null},
    "color":{"field":"set","type":"nominal","legend":null}}},
  {"data":{"name":"pts"},"transform":[{"filter":"datum.x >= 0.0000299"}],"mark":{"type":"point","filled":true,"size":16,"opacity":1},
   "encoding":{"x":{"field":"x","type":"quantitative","scale":{"type":"log","domain":[3e-5,0.001],"nice":false,"range":[150,290]},"axis":null},
    "y":{"field":"y","type":"quantitative","scale":{"domain":[0.6,1.4],"nice":false,"zero":false,"range":[146,11],"clamp":true},"axis":null},
    "color":{"field":"set","type":"nominal","legend":null}}}
 ]}
],
"resolve":{"scale":{"x":"independent","y":"independent"}}
}
